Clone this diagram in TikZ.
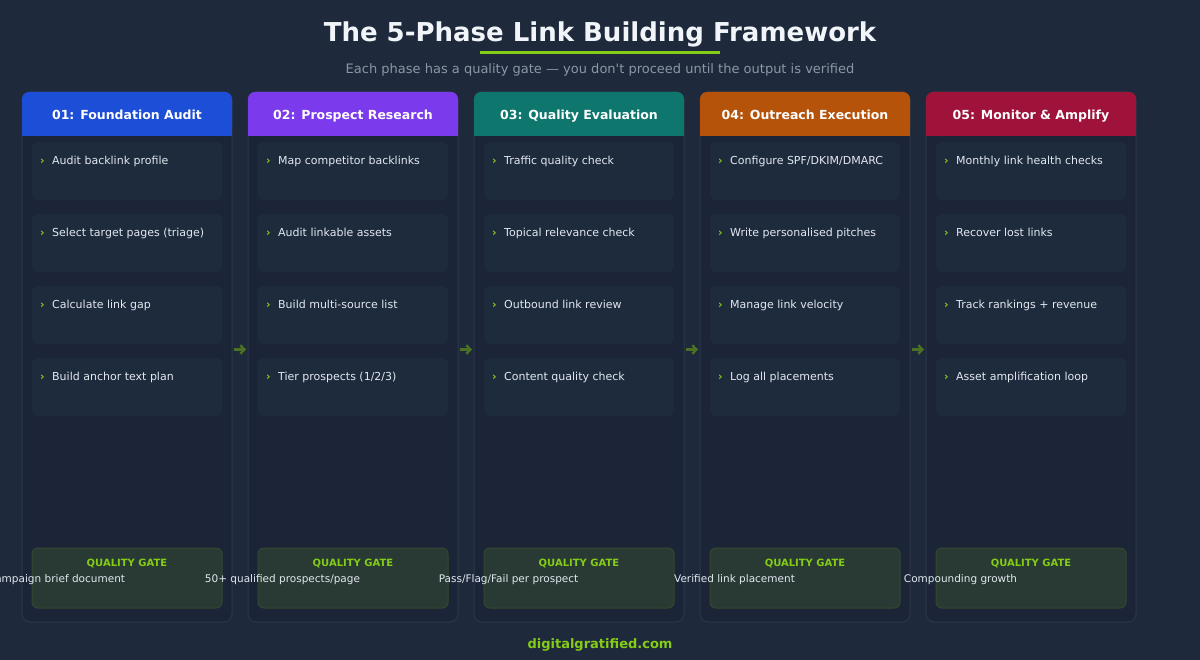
\documentclass[tikz,border=0pt]{standalone}
\usepackage{fontspec}
\setmainfont{DejaVu Sans}[Ligatures=TeXOff]
\usetikzlibrary{arrows.meta}
\definecolor{bg}{HTML}{1E293B}
\definecolor{colfill}{HTML}{1B2537}
\definecolor{colborder}{HTML}{2B3648}
\definecolor{itemfill}{HTML}{1E2B3D}
\definecolor{titlec}{HTML}{F1F5F9}
\definecolor{subc}{HTML}{8B96A6}
\definecolor{itemc}{HTML}{E2E8F0}
\definecolor{lime}{HTML}{84CC16}
\definecolor{gatefill}{HTML}{283A33}
\definecolor{gateborder}{HTML}{35482F}
\definecolor{arrowc}{HTML}{4B7223}
\definecolor{hblue}{HTML}{1D4ED8}
\definecolor{hpurple}{HTML}{7C3AED}
\definecolor{hteal}{HTML}{0F766E}
\definecolor{horange}{HTML}{B45309}
\definecolor{hcrimson}{HTML}{9F1239}
\tikzset{
  colbox/.style={draw=colborder, line width=1pt, fill=colfill, rounded corners=8pt, minimum width=210pt, minimum height=530pt, inner sep=0pt},
  itembox/.style={fill=itemfill, rounded corners=6pt, minimum width=190pt, minimum height=58pt, inner sep=0pt},
  gatebox/.style={draw=gateborder, line width=1pt, fill=gatefill, rounded corners=6pt, minimum width=190pt, minimum height=60pt, inner sep=0pt},
  headtext/.style={text=white, font=\bfseries\fontsize{12.5}{15}\selectfont, inner sep=0pt, anchor=base},
  itemtext/.style={text=itemc, font=\fontsize{11}{13}\selectfont, inner sep=0pt, anchor=base west},
  chev/.style={text=lime, font=\bfseries\fontsize{11}{13}\selectfont, inner sep=0pt, anchor=base},
  gatelabel/.style={text=lime, font=\bfseries\fontsize{10}{12}\selectfont, inner sep=0pt, anchor=base},
  gatetext/.style={text=itemc, font=\fontsize{10.5}{13}\selectfont, inner sep=0pt, anchor=base},
  flow/.style={draw=arrowc, line width=2.4pt, -{Straight Barb[length=4pt,width=8.5pt]}, shorten <=1.5pt, shorten >=1.5pt},
}
\newcommand{\phasecol}[9]{%
  \node[colbox] (col#1) at (#2+105,357) {};
  \fill[#3, rounded corners=7pt] (#2,92) rectangle (#2+210,136);
  \fill[#3] (#2,118) rectangle (#2+210,136);
  \node[headtext] (head#1) at (#2+105,120) {#4};
  \node[itembox] (it#1a) at (#2+105,171) {};
  \node[itembox] (it#1b) at (#2+105,243) {};
  \node[itembox] (it#1c) at (#2+105,315) {};
  \node[itembox] (it#1d) at (#2+105,387) {};
  \node[chev] (ch#1a) at (#2+20.5,165) {›};
  \node[chev] (ch#1b) at (#2+20.5,237) {›};
  \node[chev] (ch#1c) at (#2+20.5,309) {›};
  \node[chev] (ch#1d) at (#2+20.5,381) {›};
  \node[itemtext] (tx#1a) at (#2+30,165) {#5};
  \node[itemtext] (tx#1b) at (#2+30,237) {#6};
  \node[itemtext] (tx#1c) at (#2+30,309) {#7};
  \node[itemtext] (tx#1d) at (#2+30,381) {#8};
  \node[gatebox] (gate#1) at (#2+105,578) {};
  \node[gatelabel] (gl#1) at (#2+105,566) {QUALITY GATE};
  \node[gatetext] (gt#1) at (#2+34.5,582.5) {#9};
}
\begin{document}
\begin{tikzpicture}[x=1pt,y=-1pt]
\fill[bg] (0,0) rectangle (1200,660);
\useasboundingbox (0,0) rectangle (1200,660);
\node[text=titlec, font=\bfseries\fontsize{26}{31}\selectfont, inner sep=0pt, anchor=base] (title) at (600,42) {The 5-Phase Link Building Framework};
\fill[lime] (480,51.5) rectangle (720,54.5);
\node[text=subc, font=\fontsize{13}{16}\selectfont, inner sep=0pt, anchor=base] (subtitle) at (600,74) {Each phase has a quality gate — you don't proceed until the output is verified};
\phasecol{1}{22}{hblue}{01: Foundation Audit}{Audit backlink profile}{Select target pages (triage)}{Calculate link gap}{Build anchor text plan}{Campaign brief document}
\phasecol{2}{248}{hpurple}{02: Prospect Research}{Map competitor backlinks}{Audit linkable assets}{Build multi-source list}{Tier prospects (1/2/3)}{50+ qualified prospects/page}
\phasecol{3}{474}{hteal}{03: Quality Evaluation}{Traffic quality check}{Topical relevance check}{Outbound link review}{Content quality check}{Pass/Flag/Fail per prospect}
\phasecol{4}{700}{horange}{04: Outreach Execution}{Configure SPF/DKIM/DMARC}{Write personalised pitches}{Manage link velocity}{Log all placements}{Verified link placement}
\phasecol{5}{926}{hcrimson}{05: Monitor \& Amplify}{Monthly link health checks}{Recover lost links}{Track rankings + revenue}{Asset amplification loop}{Compounding growth}
\draw[flow] ([yshift=7.5pt]col1.east) -- ([yshift=7.5pt]col2.west);
\draw[flow] ([yshift=7.5pt]col2.east) -- ([yshift=7.5pt]col3.west);
\draw[flow] ([yshift=7.5pt]col3.east) -- ([yshift=7.5pt]col4.west);
\draw[flow] ([yshift=7.5pt]col4.east) -- ([yshift=7.5pt]col5.west);
\node[text=lime, font=\bfseries\fontsize{13}{16}\selectfont, inner sep=0pt, anchor=base] (footer) at (600,648) {digitalgratified.com};
\end{tikzpicture}
\end{document}
